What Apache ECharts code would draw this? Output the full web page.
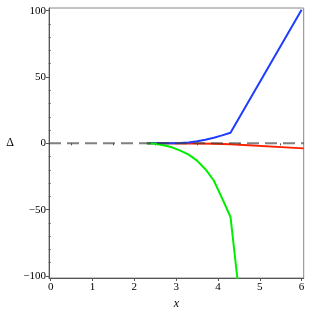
<!DOCTYPE html>
<html>
<head>
<meta charset="utf-8">
<script src="https://cdn.jsdelivr.net/npm/echarts@6/dist/echarts.min.js"></script>
<style>html,body{margin:0;padding:0;background:#fff;}#c{width:309px;height:309px;}</style>
</head>
<body>
<div id="c"></div>
<script>
var xTicks = [0, 1, 2, 3, 4, 5, 6];
var xMinorTicks = [0.5, 1.5, 2.5, 3.5, 4.5, 5.5];
var yTicks = [-100, -50, 0, 50, 100];
var yMinorTicks = [-90, -80, -70, -60, -40, -30, -20, -10, 10, 20, 30, 40, 60, 70, 80, 90];

var blueX = [2.3, 2.5, 2.7, 2.9, 3.1, 3.3, 3.5, 3.7, 3.9, 4.1, 4.3, 6.0];
var blueY = [0, 0, 0.05, 0.1, 0.3, 0.7, 1.5, 2.7, 4.2, 6.0, 8.0, 100.6];
var greenX = [2.3, 2.5, 2.7, 2.9, 3.1, 3.3, 3.5, 3.7, 3.9, 4.1, 4.3, 4.5];
var greenY = [0, -0.3, -1.5, -3, -5.5, -8.5, -13, -19.5, -28, -41.5, -55.5, -112];
var redX = [2.3, 2.7, 3.1, 3.5, 3.9, 4.3, 6.05];
var redY = [0, 0, -0.05, -0.15, -0.35, -0.6, -3.8];
var zeroX = [-0.04, 6.05];
var zeroY = [0, 0];

function pairs(xs, ys) { return xs.map(function (v, i) { return [v, ys[i]]; }); }

var X_MIN = -0.04, X_MAX = 6.05, Y_MIN = -101.5, Y_MAX = 102;
var font = 'Liberation Serif';
var axisCol = '#555';

function fmt(v) { return v < 0 ? '\u2212' + Math.abs(v) : String(v); }

var chart = echarts.init(document.getElementById('c'), null, {renderer: 'canvas'});
chart.setOption({
  animation: false,
  backgroundColor: '#fff',
  grid: {left: 49, top: 8, right: 5.3, bottom: 31, show: true, borderColor: '#888', borderWidth: 1,
         backgroundColor: 'transparent', containLabel: false, outerBoundsMode: 'none'},
  xAxis: [{
    type: 'value', min: X_MIN, max: X_MAX,
    name: 'x', nameLocation: 'middle', nameGap: 16,
    nameTextStyle: {fontFamily: font, fontStyle: 'italic', fontSize: 12, color: '#000'},
    axisLine: {show: true, onZero: false, lineStyle: {color: axisCol, width: 1}},
    axisTick: {show: true, length: 3, customValues: xTicks, lineStyle: {color: axisCol}},
    axisLabel: {customValues: xTicks, fontFamily: font, fontSize: 11, color: '#000', margin: 4, formatter: fmt},
    splitLine: {show: false}
  }, {
    type: 'value', min: X_MIN, max: X_MAX, position: 'bottom',
    axisLine: {show: false},
    axisTick: {show: true, length: 2, customValues: xMinorTicks, lineStyle: {color: axisCol}},
    axisLabel: {show: false},
    splitLine: {show: false}
  }],
  yAxis: [{
    type: 'value', min: Y_MIN, max: Y_MAX, position: 'left',
    name: '\u0394', nameLocation: 'middle', nameGap: 35, nameRotate: 0,
    nameTextStyle: {fontFamily: font, fontSize: 12, color: '#000'},
    axisLine: {show: true, onZero: false, lineStyle: {color: axisCol, width: 1}},
    axisTick: {show: true, length: 3, customValues: yTicks, lineStyle: {color: axisCol}},
    axisLabel: {customValues: yTicks, fontFamily: font, fontSize: 11, color: '#000', margin: 3, formatter: fmt},
    splitLine: {show: false}
  }, {
    type: 'value', min: Y_MIN, max: Y_MAX, position: 'left',
    axisLine: {show: false},
    axisTick: {show: true, length: 2, customValues: yMinorTicks, lineStyle: {color: axisCol}},
    axisLabel: {show: false},
    splitLine: {show: false}
  }],
  series: [{
    type: 'line', data: pairs(redX, redY), showSymbol: false, clip: true,
    lineStyle: {color: '#ff2200', width: 2}, z: 2
  }, {
    type: 'line', data: pairs(blueX, blueY), showSymbol: false, clip: true,
    lineStyle: {color: '#1f3dff', width: 2}, z: 3
  }, {
    type: 'line', data: pairs(greenX, greenY), showSymbol: false, clip: true,
    lineStyle: {color: '#00ee00', width: 2}, z: 3
  }, {
    type: 'line', data: pairs(zeroX, zeroY), showSymbol: false, clip: true,
    lineStyle: {color: 'rgba(60,60,60,0.65)', width: 2, type: [12, 6]}, z: 4
  }]
});
</script>
</body>
</html>
